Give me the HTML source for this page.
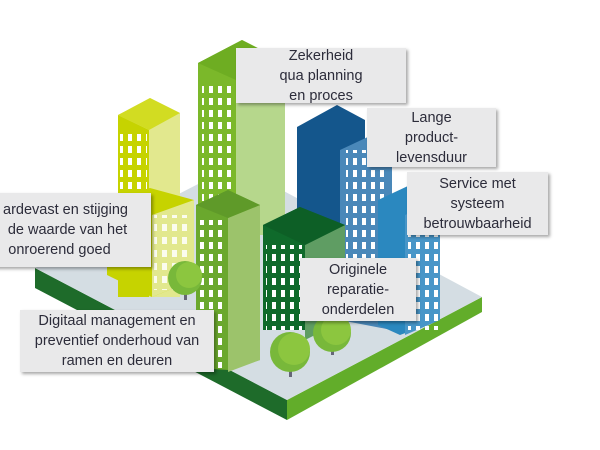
<!DOCTYPE html>
<html><head><meta charset="utf-8"><style>
html,body{margin:0;padding:0;background:#fff;}
body{width:600px;height:450px;position:relative;overflow:hidden;font-family:"Liberation Sans",sans-serif;}
.b{position:absolute;background:#e9e9ea;box-shadow:2px 2px 3px rgba(0,0,0,.35);color:#2c2c3a;font-size:14.5px;line-height:20px;text-align:center;display:flex;flex-direction:column;justify-content:center;white-space:nowrap;}
svg{position:absolute;left:0;top:0;}
</style></head><body>
<svg width="600" height="450" viewBox="0 0 600 450">
<defs>
<pattern id="w" width="9" height="12" patternUnits="userSpaceOnUse"><rect x="2" y="2" width="4" height="7" fill="#fff"/></pattern>
<pattern id="w2" width="10" height="13" patternUnits="userSpaceOnUse"><rect x="2" y="3" width="5" height="7" fill="#fff" opacity=".85"/></pattern>
</defs>
<polygon points="35,268 287,400 287,420 35,288" fill="#1e6b2a"/>
<polygon points="287,400 482,297 482,312 287,420" fill="#62ad2a"/>
<polygon points="35,268 235,165 482,297 287,400" fill="#d4dde3"/>
<polygon points="297,127 337,105 365,120 365,240 297,240" fill="#14568c"/>
<polygon points="340,150 372,135 392,145 392,330 340,320" fill="#4a88b9"/>
<rect x="346" y="150" width="40" height="170" fill="url(#w)"/>
<polygon points="378,200 410,185 440,200 440,320 400,335 378,325" fill="#2b88bf"/>
<polygon points="405,215 440,200 440,320 405,335" fill="#4896c8"/>
<rect x="408" y="220" width="30" height="110" fill="url(#w)"/>
<polygon points="118,115 150,98 180,113 180,297 118,297" fill="#e2e88e"/>
<polygon points="118,115 149,130 149,297 118,297" fill="#c6d300"/>
<polygon points="118,115 150,98 180,113 149,130" fill="#d2dc22"/>
<rect x="120" y="130" width="27" height="130" fill="url(#w)"/>
<polygon points="107,200 150,188 194,200 194,280 152,297 107,275" fill="#c6d300"/>
<polygon points="152,215 194,200 194,280 152,297" fill="#e2e88e"/>
<rect x="154" y="215" width="38" height="75" fill="url(#w2)"/>
<polygon points="236,65 285,80 285,235 236,235" fill="#b6d78c"/>
<polygon points="198,63 242,40 285,62 236,80 236,230 198,230" fill="#7bb82a"/>
<polygon points="198,63 242,40 285,62 236,80" fill="#6ead22"/>
<rect x="202" y="82" width="32" height="150" fill="url(#w)"/>
<polygon points="263,225 300,207 345,225 345,320 305,330 263,330" fill="#0f6a2b"/>
<polygon points="305,245 345,225 345,320 305,340" fill="#5f9d63"/>
<polygon points="263,225 300,207 345,225 305,245" fill="#0d5f26"/>
<rect x="266" y="245" width="36" height="85" fill="url(#w)"/>
<polygon points="196,205 228,190 260,205 260,360 228,370 196,368" fill="#6aa82d"/>
<polygon points="228,218 260,205 260,360 228,372" fill="#9cc36b"/>
<polygon points="196,205 228,190 260,205 228,218" fill="#5f9a29"/>
<rect x="199" y="220" width="27" height="148" fill="url(#w)"/>
<rect x="184" y="280" width="3" height="20" fill="#667"/>
<circle cx="185" cy="278" r="17" fill="#78b83a"/><circle cx="189" cy="275" r="13" fill="#8cc63f"/>
<rect x="331" y="335" width="3" height="20" fill="#667"/>
<circle cx="332" cy="333" r="19" fill="#78b83a"/><circle cx="336" cy="330" r="15" fill="#8cc63f"/>
<rect x="289" y="355" width="3" height="22" fill="#667"/>
<circle cx="290" cy="352" r="20" fill="#78b83a"/><circle cx="294" cy="349" r="16" fill="#8cc63f"/>
</svg>
<div class="b" style="left:236px;top:48px;width:170px;height:55px;">Zekerheid<br>qua planning<br>en proces</div>
<div class="b" style="left:367px;top:108px;width:129px;height:59px;">Lange<br>product-<br>levensduur</div>
<div class="b" style="left:407px;top:172px;width:141px;height:63px;">Service met<br>systeem<br>betrouwbaarheid</div>
<div class="b" style="left:-20px;top:193px;width:171px;height:74px;">ardevast en stijging<br>&nbsp;de waarde van het<br>onroerend goed&nbsp;&nbsp;&nbsp;</div>
<div class="b" style="left:300px;top:258px;width:116px;height:63px;">Originele<br>reparatie-<br>onderdelen</div>
<div class="b" style="left:20px;top:310px;width:194px;height:62px;">Digitaal management en<br>preventief onderhoud van<br>ramen en deuren</div>
</body></html>
